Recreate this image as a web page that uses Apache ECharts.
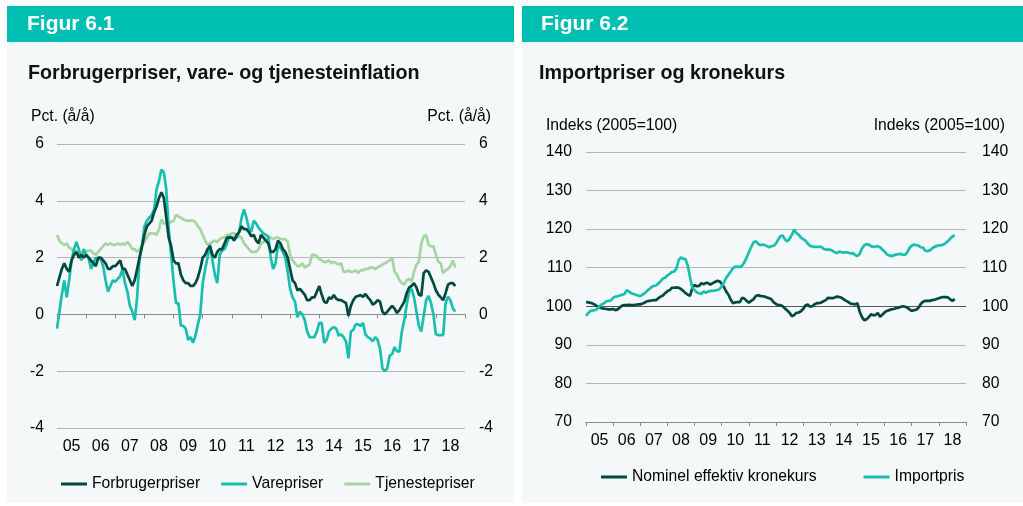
<!DOCTYPE html>
<html><head><meta charset="utf-8">
<script src="https://cdn.jsdelivr.net/npm/echarts@6/dist/echarts.min.js"></script>
<style>html,body{margin:0;padding:0;background:#fff}#c{width:1023px;height:506px}</style>
</head><body><div id="c"></div><script>
// ---------- DATA ----------
const yearLabels = ['05','06','07','08','09','10','11','12','13','14','15','16','17','18'];
const startYear = 2005; // monthly data, first point Jan 2005

const forbrugerpriser = [1.0,1.3,1.6,1.8,1.6,1.5,1.9,2.1,2.2,2.0,2.1,2.0,2.1,2.0,1.9,1.8,1.7,2.0,2.0,1.9,1.8,1.6,1.6,1.7,1.7,1.8,1.9,1.6,1.6,1.4,1.2,1.0,1.2,1.6,2.0,2.4,2.8,3.1,3.2,3.3,3.6,3.8,4.1,4.3,4.1,3.4,2.7,2.4,1.9,1.8,1.8,1.4,1.2,1.1,1.1,1.0,
  1.0,1.1,1.3,1.6,2.0,2.1,2.3,2.4,2.1,2.0,2.2,2.3,2.3,2.5,2.7,2.7,2.7,2.6,2.8,2.9,3.1,3.0,3.0,2.9,2.75,2.8,2.6,2.5,2.8,2.7,2.6,2.5,2.2,2.2,2.3,2.6,2.5,2.3,2.2,2.0,1.6,1.2,1.1,0.85,0.9,0.8,0.7,0.5,0.5,0.6,0.6,0.8,1.0,0.7,0.45,0.4,
  0.6,0.55,0.68,0.55,0.5,0.5,0.45,0.4,-0.05,0.3,0.5,0.62,0.65,0.68,0.62,0.72,0.6,0.5,0.35,0.4,0.5,0.45,0.1,0.0,0.1,0.2,0.3,0.2,0.05,0.15,0.3,0.45,0.75,0.95,1.0,1.1,0.95,0.7,0.65,1.45,1.55,1.5,1.3,1.1,0.85,0.7,0.6,0.5,0.75,1.05,1.1,1.1,1.0];

const varepriser = [-0.5,0.1,0.7,1.2,0.6,1.2,1.9,2.3,2.55,2.3,1.9,2.3,2.1,2.0,1.6,1.8,2.0,1.95,1.95,1.7,1.2,0.8,1.0,1.2,1.15,1.25,1.35,1.6,1.1,0.8,0.3,0.1,-0.2,0.6,2.0,2.4,3.1,3.3,3.4,3.5,3.7,4.4,4.7,5.1,5.0,4.4,3.0,2.1,1.15,0.4,0.4,-0.4,-0.4,-0.5,-0.9,-0.8,
  -1.0,-0.75,-0.35,0.0,1.1,1.6,2.0,2.45,1.9,1.4,1.1,2.1,2.25,2.3,2.5,2.75,2.7,2.7,2.7,2.9,3.4,3.7,3.4,3.05,2.9,3.3,3.2,3.05,2.95,2.85,2.8,2.75,2.0,1.6,1.8,2.45,2.35,2.2,2.0,1.5,0.9,0.6,0.45,-0.1,0.1,0.0,-0.2,-0.6,-0.8,-0.8,-0.8,-0.6,-0.3,-0.3,-1.0,-0.9,
  -0.6,-0.5,-0.45,-0.5,-0.75,-0.7,-0.8,-0.95,-1.55,-0.6,-0.55,-0.35,-0.35,-0.4,-0.3,-0.7,-0.8,-0.85,-0.95,-0.8,-0.9,-1.2,-1.9,-2.0,-1.9,-1.45,-1.4,-1.15,-1.3,-1.3,-0.6,-0.2,0.35,0.8,0.9,0.6,0.1,-0.4,-0.6,-0.05,0.5,0.65,0.4,0.0,-0.7,-0.73,-0.73,-0.73,0.4,0.62,0.5,0.2,0.1];

const tjenestepriser = [2.8,2.6,2.5,2.45,2.5,2.35,2.3,2.2,2.25,2.2,2.15,2.25,2.2,2.25,2.25,2.15,2.1,2.2,2.3,2.4,2.5,2.45,2.5,2.45,2.45,2.5,2.45,2.5,2.45,2.55,2.45,2.3,2.3,2.2,2.3,2.4,2.55,2.7,2.85,2.85,2.85,2.8,3.0,3.35,3.2,3.2,3.25,3.25,3.3,3.5,3.45,3.4,3.35,3.3,3.3,3.3,
  3.3,3.25,3.1,3.0,2.8,2.6,2.45,2.5,2.55,2.6,2.55,2.65,2.7,2.7,2.8,2.8,2.85,2.85,2.8,2.75,2.7,2.5,2.4,2.3,2.2,2.2,2.2,2.3,2.5,2.55,2.65,2.7,2.7,2.65,2.7,2.7,2.65,2.65,2.65,2.55,2.1,1.9,1.8,1.7,1.7,1.8,1.65,1.7,1.75,2.1,2.1,2.05,1.95,1.9,1.85,1.85,
  1.9,1.8,1.85,1.8,1.75,1.8,1.5,1.5,1.55,1.5,1.5,1.55,1.45,1.55,1.55,1.6,1.6,1.65,1.65,1.6,1.65,1.7,1.75,1.8,1.85,1.9,2.0,1.5,1.4,1.2,1.1,1.05,1.2,1.25,1.15,1.5,1.75,1.85,2.5,2.75,2.8,2.45,2.4,2.4,2.1,1.85,1.8,1.45,1.55,1.6,1.7,1.9,1.65];

const kronekurs = [101.1,101.0,100.9,100.7,100.4,100.0,99.7,99.5,99.4,99.3,99.2,99.2,99.3,99.0,99.2,99.7,100.2,100.3,100.3,100.4,100.3,100.3,100.4,100.5,100.5,100.7,101.0,101.3,101.4,101.5,101.6,101.6,102.1,102.5,102.8,103.4,103.9,104.2,104.8,104.8,104.9,104.8,104.5,104.0,103.4,103.0,102.7,104.8,105.5,105.2,105.3,106.0,105.7,106.1,106.0,105.6,106.0,106.3,106.6,106.5,105.8,105.0,103.8,103.0,101.7,100.8,101.0,101.1,101.1,102.2,102.0,101.4,100.9,101.4,101.8,102.6,102.9,102.7,102.6,102.5,102.3,102.1,101.8,101.0,
  100.6,100.3,100.3,100.0,99.4,98.9,98.3,97.4,97.7,98.3,98.4,98.7,99.3,100.2,100.5,99.9,100.0,100.5,100.8,100.8,101.0,101.3,101.6,102.2,102.1,102.1,102.3,102.5,102.4,102.2,101.8,101.4,101.1,100.7,100.6,100.5,100.8,98.6,97.2,96.4,96.6,97.2,97.9,97.7,97.7,98.3,97.3,97.8,98.4,98.8,99.0,99.2,99.3,99.5,99.6,99.8,100.0,99.9,99.7,99.2,98.8,99.0,99.1,99.6,100.6,101.2,101.4,101.4,101.4,101.6,101.7,101.9,102.1,102.3,102.4,102.4,102.3,101.8,101.4,101.9];

const importpris = [97.5,98.2,98.8,98.9,99.0,99.3,100.0,100.5,100.8,101.3,101.4,101.5,102.2,102.5,102.6,102.8,103.0,103.2,104.2,103.8,103.4,103.2,103.0,102.8,102.6,103.0,103.4,104.0,104.5,105.0,105.3,105.4,105.9,106.5,107.2,107.4,108.0,108.4,108.9,109.0,109.8,112.0,112.7,112.3,112.2,110.5,107.5,104.8,104.2,103.6,103.4,103.2,103.9,103.5,103.8,104.0,104.0,104.1,104.2,104.4,105.2,106.2,107.4,108.2,109.0,109.9,110.3,110.2,110.2,110.5,111.4,112.6,114.0,115.3,116.5,116.9,116.3,115.8,116.0,115.9,115.6,115.3,115.6,115.7,
  116.3,117.3,118.2,118.3,117.3,116.8,117.5,118.5,119.9,119.0,118.6,117.8,117.4,117.0,116.3,115.7,115.5,115.4,115.4,115.4,115.4,114.9,114.7,114.7,114.7,114.4,114.0,113.8,114.2,114.0,113.9,114.0,113.9,113.7,113.8,113.3,113.0,113.6,115.0,115.8,116.1,116.0,115.6,115.4,115.5,115.6,115.3,114.7,114.2,113.5,113.2,113.0,113.2,113.4,113.5,113.6,113.4,113.3,114.0,115.1,115.7,116.0,115.9,115.7,115.3,115.2,114.4,114.3,114.5,115.0,115.4,115.6,115.8,115.8,116.0,116.4,116.9,117.5,118.1,118.4];

// ---------- STYLE ----------
const FONT = '"Liberation Sans", Arial, sans-serif';
const FS = 15.7;
const DARK = '#00493F', TEAL = '#19BFAE', LIGHT = '#A6D4A3';
const GRID = '#b5b5b5', AXIS = '#8a8a8a';
const toXY = arr => arr.map((v, i) => [startYear + i / 12, v]);

function xAxes(g){
  return [
    {gridIndex:g, type:'value', min:2005, max:2019, interval:1,
     axisLine:{show:true, lineStyle:{color:AXIS, width:1}},
     axisTick:{show:true, length:4, lineStyle:{color:AXIS}},
     axisLabel:{show:false}, splitLine:{show:false}},
    {gridIndex:g, type:'category', data:yearLabels, boundaryGap:true, position:'bottom',
     axisLine:{show:false}, axisTick:{show:false}, splitLine:{show:false},
     axisLabel:{margin:11, fontSize:16, color:'#000', fontFamily:FONT}}
  ];
}
function yAxes(g, min, max, interval, splitColors, lm, rm){
  const base = {gridIndex:g, type:'value', min, max, interval,
    axisLine:{show:false}, axisTick:{show:false}};
  return [
    Object.assign({}, base, {position:'left',
      axisLabel:{margin:lm, fontSize:FS, color:'#000', fontFamily:FONT},
      splitLine:{show:true, lineStyle:{color:splitColors, width:1}}}),
    Object.assign({}, base, {position:'right',
      axisLabel:{margin:rm, fontSize:FS, color:'#000', fontFamily:FONT},
      splitLine:{show:false}})
  ];
}
function txt(x, y, text, font, fill, align){
  return {type:'text', x, y, z:5, style:{text, font, fill: fill||'#000', align: align||'left', verticalAlign:'middle'}};
}
function line(name, data, color, xi, yi){
  return {name, type:'line', xAxisIndex:xi, yAxisIndex:yi, data:toXY(data), showSymbol:false, symbol:'none',
    lineStyle:{color, width:2.7}, itemStyle:{color}, silent:true, z:3};
}

const option = {
  animation:false,
  backgroundColor:'#ffffff',
  textStyle:{fontFamily:FONT},
  graphic:[
    {type:'rect', z:-1, shape:{x:7, y:6, width:507, height:497}, style:{fill:'#F5F8F8'}},
    {type:'rect', z:-1, shape:{x:7, y:6, width:507, height:36}, style:{fill:'#00BFB2'}},
    {type:'rect', z:-1, shape:{x:522, y:6, width:501, height:497}, style:{fill:'#F5F8F8'}},
    {type:'rect', z:-1, shape:{x:522, y:6, width:501, height:36}, style:{fill:'#00BFB2'}},
    txt(27, 24, 'Figur 6.1', 'bold 21px ' + FONT, '#fff'),
    txt(541, 24, 'Figur 6.2', 'bold 21px ' + FONT, '#fff'),
    txt(28, 74, 'Forbrugerpriser, vare- og tjenesteinflation', 'bold 19.7px ' + FONT, '#111'),
    txt(539, 74, 'Importpriser og kronekurs', 'bold 19.7px ' + FONT, '#111'),
    txt(31, 117, 'Pct. (å/å)', FS + 'px ' + FONT),
    txt(491, 117, 'Pct. (å/å)', FS + 'px ' + FONT, '#000', 'right'),
    txt(546, 126, 'Indeks (2005=100)', FS + 'px ' + FONT),
    txt(1005, 126, 'Indeks (2005=100)', FS + 'px ' + FONT, '#000', 'right')
  ],
  grid:[
    {left:57, top:144, width:408, height:284},
    {left:586, top:152, width:380, height:270}
  ],
  xAxis: xAxes(0).concat(xAxes(1)),
  yAxis: yAxes(0, -4, 6, 2, [GRID, GRID, '#000', GRID, GRID, GRID], 13, 14)
    .concat(yAxes(1, 70, 140, 10, [GRID, GRID, GRID, '#555', GRID, GRID, GRID, GRID], 14, 16)),
  legend:[
    {data:['Forbrugerpriser','Varepriser','Tjenestepriser'], left:56, top:471, icon:'rect',
     itemWidth:26, itemHeight:3, itemGap:21, selectedMode:false,
     textStyle:{fontSize:FS, color:'#000', fontFamily:FONT}},
    {data:['Nominel effektiv kronekurs','Importpris'], left:596, top:464, icon:'rect',
     itemWidth:26, itemHeight:3, itemGap:47, selectedMode:false,
     textStyle:{fontSize:FS, color:'#000', fontFamily:FONT}}
  ],
  series:[
    line('Tjenestepriser', tjenestepriser, LIGHT, 0, 0),
    line('Varepriser', varepriser, TEAL, 0, 0),
    line('Forbrugerpriser', forbrugerpriser, DARK, 0, 0),
    line('Nominel effektiv kronekurs', kronekurs, DARK, 2, 2),
    line('Importpris', importpris, TEAL, 2, 2)
  ]
};
const chart = echarts.init(document.getElementById('c'), null, {renderer:'canvas'});
chart.setOption(option);
</script></body></html>
